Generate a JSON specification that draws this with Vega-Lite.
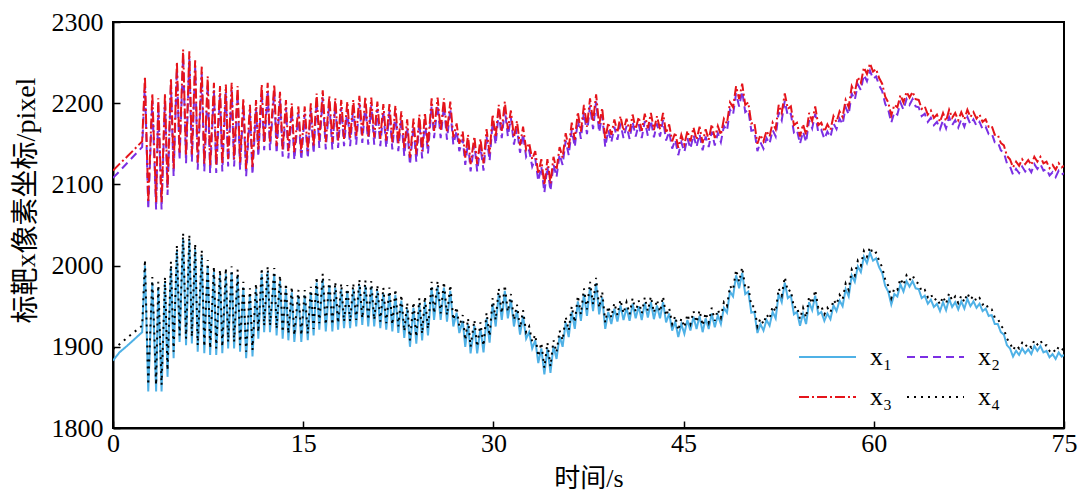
{
"$schema": "https://vega.github.io/schema/vega-lite/v6.json",
"width": 951, "height": 406,
"autosize": {"type": "none"},
"padding": {"left": 113, "top": 22, "right": 18, "bottom": 65},
"background": "white",
"config": {"view": {"stroke": "black", "strokeWidth": 2}, "font": "Liberation Serif"},
"data": {"values": [
{"t":0,"x1":1883,"x2":2108,"x3":2117,"x4":1897},
{"t":0.5,"x1":1893,"x2":2116,"x3":2125,"x4":1903},
{"t":1.1,"x1":1901,"x2":2126,"x3":2134,"x4":1911},
{"t":2.3,"x1":1918,"x2":2146,"x3":2153,"x4":1926},
{"t":2.52,"x1":2000,"x2":2224,"x3":2233,"x4":2007},{"t":2.78,"x1":1845,"x2":2069,"x3":2078,"x4":1853},
{"t":3.10,"x1":1979,"x2":2203,"x3":2212,"x4":1986},{"t":3.40,"x1":1845,"x2":2069,"x3":2078,"x4":1853},
{"t":3.57,"x1":1973,"x2":2197,"x3":2206,"x4":1980},{"t":3.83,"x1":1845,"x2":2069,"x3":2078,"x4":1853},
{"t":4.10,"x1":1979,"x2":2203,"x3":2212,"x4":1986},{"t":4.30,"x1":1863,"x2":2087,"x3":2096,"x4":1871},
{"t":4.57,"x1":1998,"x2":2222,"x3":2231,"x4":2005},{"t":4.78,"x1":1886,"x2":2110,"x3":2119,"x4":1894},
{"t":5.04,"x1":2018,"x2":2242,"x3":2251,"x4":2025},{"t":5.25,"x1":1906,"x2":2130,"x3":2139,"x4":1914},
{"t":5.53,"x1":2033,"x2":2257,"x3":2266,"x4":2040},{"t":5.76,"x1":1902,"x2":2126,"x3":2135,"x4":1910},
{"t":6.02,"x1":2031,"x2":2255,"x3":2264,"x4":2038},{"t":6.22,"x1":1904,"x2":2128,"x3":2137,"x4":1912},
{"t":6.48,"x1":2020,"x2":2244,"x3":2253,"x4":2027},{"t":6.68,"x1":1894,"x2":2118,"x3":2127,"x4":1902},
{"t":7.00,"x1":2012,"x2":2236,"x3":2245,"x4":2019},{"t":7.20,"x1":1892,"x2":2116,"x3":2125,"x4":1900},
{"t":7.47,"x1":2000,"x2":2224,"x3":2233,"x4":2007},{"t":7.66,"x1":1890,"x2":2114,"x3":2123,"x4":1898},
{"t":7.96,"x1":1992,"x2":2216,"x3":2225,"x4":1999},{"t":8.14,"x1":1890,"x2":2114,"x3":2123,"x4":1898},
{"t":8.44,"x1":1988,"x2":2212,"x3":2221,"x4":1995},{"t":8.62,"x1":1892,"x2":2116,"x3":2125,"x4":1900},
{"t":8.90,"x1":1990,"x2":2214,"x3":2223,"x4":1997},{"t":9.08,"x1":1898,"x2":2122,"x3":2131,"x4":1906},
{"t":9.36,"x1":1992,"x2":2216,"x3":2225,"x4":1999},{"t":9.55,"x1":1898,"x2":2122,"x3":2131,"x4":1906},
{"t":9.83,"x1":1988,"x2":2212,"x3":2221,"x4":1995},{"t":10.02,"x1":1894,"x2":2118,"x3":2127,"x4":1902},
{"t":10.28,"x1":1973,"x2":2197,"x3":2206,"x4":1980},{"t":10.50,"x1":1886,"x2":2110,"x3":2119,"x4":1894},
{"t":10.80,"x1":1965,"x2":2189,"x3":2198,"x4":1972},{"t":11.00,"x1":1888,"x2":2112,"x3":2121,"x4":1896},
{"t":11.28,"x1":1971,"x2":2195,"x3":2204,"x4":1978},{"t":11.46,"x1":1910,"x2":2134,"x3":2143,"x4":1918},
{"t":11.73,"x1":1990,"x2":2214,"x3":2223,"x4":1997},{"t":11.92,"x1":1918,"x2":2142,"x3":2151,"x4":1926},
{"t":12.20,"x1":1992,"x2":2216,"x3":2225,"x4":1999},{"t":12.38,"x1":1918,"x2":2142,"x3":2151,"x4":1926},
{"t":12.72,"x1":1990,"x2":2214,"x3":2223,"x4":1997},{"t":12.90,"x1":1914,"x2":2138,"x3":2147,"x4":1922},
{"t":13.17,"x1":1981,"x2":2205,"x3":2214,"x4":1988},{"t":13.38,"x1":1910,"x2":2134,"x3":2143,"x4":1918},
{"t":13.64,"x1":1971,"x2":2195,"x3":2204,"x4":1978},{"t":13.83,"x1":1908,"x2":2132,"x3":2141,"x4":1916},
{"t":14.10,"x1":1967,"x2":2191,"x3":2200,"x4":1974},{"t":14.30,"x1":1906,"x2":2130,"x3":2139,"x4":1914},
{"t":14.62,"x1":1963,"x2":2187,"x3":2196,"x4":1970},{"t":14.85,"x1":1906,"x2":2130,"x3":2139,"x4":1914},
{"t":15.12,"x1":1963,"x2":2187,"x3":2196,"x4":1970},{"t":15.36,"x1":1908,"x2":2132,"x3":2141,"x4":1916},
{"t":15.60,"x1":1967,"x2":2191,"x3":2200,"x4":1974},{"t":15.82,"x1":1914,"x2":2138,"x3":2147,"x4":1922},
{"t":16.06,"x1":1979,"x2":2203,"x3":2212,"x4":1986},{"t":16.27,"x1":1921,"x2":2145,"x3":2154,"x4":1929},
{"t":16.54,"x1":1983,"x2":2207,"x3":2216,"x4":1990},{"t":16.78,"x1":1919,"x2":2143,"x3":2152,"x4":1927},
{"t":17.06,"x1":1976,"x2":2200,"x3":2209,"x4":1983},{"t":17.30,"x1":1919,"x2":2143,"x3":2152,"x4":1927},
{"t":17.53,"x1":1973,"x2":2197,"x3":2206,"x4":1980},{"t":17.75,"x1":1921,"x2":2145,"x3":2154,"x4":1929},
{"t":18.00,"x1":1971,"x2":2195,"x3":2204,"x4":1978},{"t":18.22,"x1":1923,"x2":2147,"x3":2156,"x4":1931},
{"t":18.48,"x1":1969,"x2":2193,"x3":2202,"x4":1976},{"t":18.70,"x1":1923,"x2":2147,"x3":2156,"x4":1931},
{"t":18.95,"x1":1971,"x2":2195,"x3":2204,"x4":1978},{"t":19.18,"x1":1925,"x2":2149,"x3":2158,"x4":1933},
{"t":19.43,"x1":1976,"x2":2200,"x3":2209,"x4":1983},{"t":19.66,"x1":1927,"x2":2151,"x3":2160,"x4":1935},
{"t":19.90,"x1":1975,"x2":2199,"x3":2208,"x4":1982},{"t":20.13,"x1":1925,"x2":2149,"x3":2158,"x4":1933},
{"t":20.37,"x1":1974,"x2":2198,"x3":2207,"x4":1981},{"t":20.60,"x1":1925,"x2":2149,"x3":2158,"x4":1933},
{"t":20.85,"x1":1969,"x2":2193,"x3":2202,"x4":1976},{"t":21.08,"x1":1923,"x2":2147,"x3":2156,"x4":1931},
{"t":21.32,"x1":1966,"x2":2190,"x3":2199,"x4":1973},{"t":21.55,"x1":1921,"x2":2145,"x3":2154,"x4":1929},
{"t":21.80,"x1":1966,"x2":2190,"x3":2199,"x4":1973},{"t":22.03,"x1":1919,"x2":2143,"x3":2152,"x4":1927},
{"t":22.27,"x1":1964,"x2":2188,"x3":2197,"x4":1971},{"t":22.50,"x1":1917,"x2":2141,"x3":2150,"x4":1925},
{"t":22.74,"x1":1957,"x2":2181,"x3":2190,"x4":1964},{"t":22.97,"x1":1911,"x2":2135,"x3":2144,"x4":1919},
{"t":23.20,"x1":1947,"x2":2171,"x3":2180,"x4":1954},{"t":23.42,"x1":1900,"x2":2124,"x3":2133,"x4":1908},
{"t":23.70,"x1":1948,"x2":2172,"x3":2181,"x4":1955},{"t":23.92,"x1":1904,"x2":2128,"x3":2137,"x4":1912},
{"t":24.16,"x1":1953,"x2":2177,"x3":2186,"x4":1960},{"t":24.38,"x1":1908,"x2":2132,"x3":2141,"x4":1916},
{"t":24.60,"x1":1955,"x2":2179,"x3":2188,"x4":1962},{"t":24.84,"x1":1914,"x2":2138,"x3":2147,"x4":1922},
{"t":25.13,"x1":1973,"x2":2197,"x3":2206,"x4":1980},{"t":25.32,"x1":1933,"x2":2157,"x3":2166,"x4":1941},
{"t":25.60,"x1":1974,"x2":2198,"x3":2207,"x4":1981},{"t":25.84,"x1":1933,"x2":2157,"x3":2166,"x4":1941},
{"t":26.10,"x1":1973,"x2":2197,"x3":2206,"x4":1980},{"t":26.34,"x1":1931,"x2":2155,"x3":2164,"x4":1939},
{"t":26.60,"x1":1969,"x2":2193,"x3":2202,"x4":1976},{"t":26.84,"x1":1925,"x2":2149,"x3":2158,"x4":1933},
{"t":27.10,"x1":1942,"x2":2166,"x3":2175,"x4":1949},{"t":27.31,"x1":1917,"x2":2141,"x3":2150,"x4":1925},
{"t":27.58,"x1":1932,"x2":2156,"x3":2165,"x4":1939},{"t":27.78,"x1":1900,"x2":2124,"x3":2133,"x4":1908},
{"t":28.00,"x1":1928,"x2":2152,"x3":2161,"x4":1935},{"t":28.20,"x1":1892,"x2":2116,"x3":2125,"x4":1900},
{"t":28.50,"x1":1926,"x2":2150,"x3":2159,"x4":1933},{"t":28.72,"x1":1892,"x2":2116,"x3":2125,"x4":1900},
{"t":28.98,"x1":1923,"x2":2147,"x3":2156,"x4":1930},{"t":29.22,"x1":1893,"x2":2117,"x3":2126,"x4":1901},
{"t":29.46,"x1":1935,"x2":2159,"x3":2168,"x4":1942},{"t":29.70,"x1":1905,"x2":2129,"x3":2138,"x4":1913},
{"t":29.94,"x1":1953,"x2":2177,"x3":2186,"x4":1960},{"t":30.18,"x1":1925,"x2":2149,"x3":2158,"x4":1933},
{"t":30.42,"x1":1965,"x2":2189,"x3":2198,"x4":1972},{"t":30.66,"x1":1933,"x2":2157,"x3":2166,"x4":1941},
{"t":30.90,"x1":1969,"x2":2193,"x3":2202,"x4":1976},{"t":31.14,"x1":1935,"x2":2159,"x3":2168,"x4":1943},
{"t":31.38,"x1":1958,"x2":2182,"x3":2191,"x4":1965},{"t":31.62,"x1":1925,"x2":2149,"x3":2158,"x4":1933},
{"t":31.86,"x1":1945,"x2":2169,"x3":2178,"x4":1952},{"t":32.10,"x1":1915,"x2":2139,"x3":2148,"x4":1923},
{"t":32.34,"x1":1938,"x2":2162,"x3":2171,"x4":1945},{"t":32.58,"x1":1910,"x2":2134,"x3":2143,"x4":1918},
{"t":32.82,"x1":1918,"x2":2142,"x3":2151,"x4":1925},{"t":33.06,"x1":1898,"x2":2122,"x3":2131,"x4":1906},
{"t":33.30,"x1":1908,"x2":2132,"x3":2141,"x4":1915},{"t":33.54,"x1":1880,"x2":2104,"x3":2113,"x4":1888},
{"t":33.78,"x1":1898,"x2":2122,"x3":2131,"x4":1905},{"t":34.02,"x1":1866,"x2":2090,"x3":2099,"x4":1874},
{"t":34.26,"x1":1898,"x2":2122,"x3":2131,"x4":1905},{"t":34.50,"x1":1868,"x2":2092,"x3":2101,"x4":1876},
{"t":34.74,"x1":1901,"x2":2125,"x3":2134,"x4":1908},{"t":34.98,"x1":1885,"x2":2109,"x3":2118,"x4":1893},
{"t":35.22,"x1":1913,"x2":2137,"x3":2146,"x4":1920},{"t":35.46,"x1":1900,"x2":2124,"x3":2133,"x4":1908},
{"t":35.70,"x1":1930,"x2":2154,"x3":2163,"x4":1937},{"t":35.94,"x1":1912,"x2":2136,"x3":2145,"x4":1920},
{"t":36.18,"x1":1943,"x2":2167,"x3":2176,"x4":1950},{"t":36.42,"x1":1922,"x2":2146,"x3":2155,"x4":1930},
{"t":36.66,"x1":1956,"x2":2180,"x3":2189,"x4":1963},{"t":36.90,"x1":1932,"x2":2156,"x3":2165,"x4":1940},
{"t":37.14,"x1":1965,"x2":2189,"x3":2198,"x4":1972},{"t":37.38,"x1":1938,"x2":2162,"x3":2171,"x4":1946},
{"t":37.62,"x1":1973,"x2":2197,"x3":2206,"x4":1980},{"t":37.86,"x1":1944,"x2":2168,"x3":2177,"x4":1952},
{"t":38.10,"x1":1978,"x2":2202,"x3":2211,"x4":1985},{"t":38.34,"x1":1940,"x2":2164,"x3":2173,"x4":1948},
{"t":38.58,"x1":1961,"x2":2185,"x3":2194,"x4":1968},{"t":38.82,"x1":1922,"x2":2146,"x3":2155,"x4":1930},
{"t":39.06,"x1":1943,"x2":2167,"x3":2176,"x4":1950},{"t":39.30,"x1":1928,"x2":2152,"x3":2161,"x4":1936},
{"t":39.54,"x1":1947,"x2":2171,"x3":2180,"x4":1954},{"t":39.78,"x1":1931,"x2":2155,"x3":2164,"x4":1939},
{"t":40.02,"x1":1951,"x2":2175,"x3":2184,"x4":1958},{"t":40.26,"x1":1933,"x2":2157,"x3":2166,"x4":1941},
{"t":40.50,"x1":1948,"x2":2172,"x3":2181,"x4":1955},{"t":40.74,"x1":1932,"x2":2156,"x3":2165,"x4":1940},
{"t":40.98,"x1":1953,"x2":2177,"x3":2186,"x4":1960},{"t":41.22,"x1":1935,"x2":2159,"x3":2168,"x4":1943},
{"t":41.46,"x1":1950,"x2":2174,"x3":2183,"x4":1957},{"t":41.70,"x1":1933,"x2":2157,"x3":2166,"x4":1941},
{"t":41.94,"x1":1954,"x2":2178,"x3":2187,"x4":1961},{"t":42.18,"x1":1936,"x2":2160,"x3":2169,"x4":1944},
{"t":42.42,"x1":1955,"x2":2179,"x3":2188,"x4":1962},{"t":42.66,"x1":1934,"x2":2158,"x3":2167,"x4":1942},
{"t":42.90,"x1":1951,"x2":2175,"x3":2184,"x4":1958},{"t":43.14,"x1":1935,"x2":2159,"x3":2168,"x4":1943},
{"t":43.38,"x1":1955,"x2":2179,"x3":2188,"x4":1962},{"t":43.62,"x1":1930,"x2":2154,"x3":2163,"x4":1938},
{"t":43.86,"x1":1941,"x2":2165,"x3":2174,"x4":1948},{"t":44.10,"x1":1920,"x2":2144,"x3":2153,"x4":1928},
{"t":44.34,"x1":1931,"x2":2155,"x3":2164,"x4":1938},{"t":44.58,"x1":1912,"x2":2136,"x3":2145,"x4":1920},
{"t":44.82,"x1":1928,"x2":2152,"x3":2161,"x4":1935},{"t":45.06,"x1":1916,"x2":2140,"x3":2149,"x4":1924},
{"t":45.30,"x1":1933,"x2":2157,"x3":2166,"x4":1940},{"t":45.54,"x1":1920,"x2":2144,"x3":2153,"x4":1928},
{"t":45.78,"x1":1937,"x2":2161,"x3":2170,"x4":1944},{"t":46.02,"x1":1922,"x2":2146,"x3":2155,"x4":1930},
{"t":46.26,"x1":1938,"x2":2162,"x3":2171,"x4":1945},{"t":46.50,"x1":1918,"x2":2142,"x3":2151,"x4":1926},
{"t":46.74,"x1":1935,"x2":2159,"x3":2168,"x4":1942},{"t":46.98,"x1":1922,"x2":2146,"x3":2155,"x4":1930},
{"t":47.22,"x1":1941,"x2":2165,"x3":2174,"x4":1948},{"t":47.46,"x1":1924,"x2":2148,"x3":2157,"x4":1932},
{"t":47.70,"x1":1939,"x2":2163,"x3":2172,"x4":1946},{"t":47.94,"x1":1928,"x2":2152,"x3":2161,"x4":1936},
{"t":48.18,"x1":1948,"x2":2172,"x3":2181,"x4":1955},{"t":48.42,"x1":1942,"x2":2166,"x3":2175,"x4":1950},
{"t":48.66,"x1":1968,"x2":2192,"x3":2201,"x4":1975},{"t":48.90,"x1":1962,"x2":2186,"x3":2195,"x4":1970},
{"t":49.14,"x1":1988,"x2":2212,"x3":2221,"x4":1995},{"t":49.38,"x1":1972,"x2":2196,"x3":2205,"x4":1980},
{"t":49.62,"x1":1991,"x2":2215,"x3":2224,"x4":1998},{"t":49.86,"x1":1965,"x2":2189,"x3":2198,"x4":1973},
{"t":50.10,"x1":1968,"x2":2192,"x3":2201,"x4":1975},{"t":50.34,"x1":1942,"x2":2166,"x3":2175,"x4":1950},
{"t":50.58,"x1":1943,"x2":2167,"x3":2176,"x4":1950},{"t":50.82,"x1":1917,"x2":2141,"x3":2150,"x4":1925},
{"t":51.06,"x1":1928,"x2":2152,"x3":2161,"x4":1935},{"t":51.30,"x1":1920,"x2":2144,"x3":2153,"x4":1928},
{"t":51.54,"x1":1933,"x2":2157,"x3":2166,"x4":1940},{"t":51.78,"x1":1926,"x2":2150,"x3":2159,"x4":1934},
{"t":52.02,"x1":1943,"x2":2167,"x3":2176,"x4":1950},{"t":52.26,"x1":1935,"x2":2159,"x3":2168,"x4":1943},
{"t":52.50,"x1":1965,"x2":2189,"x3":2198,"x4":1972},{"t":52.74,"x1":1955,"x2":2179,"x3":2188,"x4":1963},
{"t":52.98,"x1":1979,"x2":2203,"x3":2212,"x4":1986},{"t":53.22,"x1":1960,"x2":2184,"x3":2193,"x4":1968},
{"t":53.46,"x1":1963,"x2":2187,"x3":2196,"x4":1970},{"t":53.70,"x1":1940,"x2":2164,"x3":2173,"x4":1948},
{"t":53.94,"x1":1943,"x2":2167,"x3":2176,"x4":1950},{"t":54.18,"x1":1926,"x2":2150,"x3":2159,"x4":1934},
{"t":54.42,"x1":1941,"x2":2165,"x3":2174,"x4":1948},{"t":54.66,"x1":1928,"x2":2152,"x3":2161,"x4":1936},
{"t":54.90,"x1":1955,"x2":2179,"x3":2188,"x4":1962},{"t":55.14,"x1":1945,"x2":2169,"x3":2178,"x4":1953},
{"t":55.38,"x1":1963,"x2":2187,"x3":2196,"x4":1970},{"t":55.62,"x1":1940,"x2":2164,"x3":2173,"x4":1948},
{"t":55.86,"x1":1943,"x2":2167,"x3":2176,"x4":1950},{"t":56.10,"x1":1932,"x2":2156,"x3":2165,"x4":1940},
{"t":56.34,"x1":1941,"x2":2165,"x3":2174,"x4":1948},{"t":56.58,"x1":1934,"x2":2158,"x3":2167,"x4":1942},
{"t":56.82,"x1":1951,"x2":2175,"x3":2184,"x4":1958},{"t":57.06,"x1":1944,"x2":2168,"x3":2177,"x4":1952},
{"t":57.30,"x1":1957,"x2":2181,"x3":2190,"x4":1964},{"t":57.54,"x1":1950,"x2":2174,"x3":2183,"x4":1958},
{"t":57.78,"x1":1971,"x2":2195,"x3":2204,"x4":1978},{"t":58.02,"x1":1962,"x2":2186,"x3":2195,"x4":1970},
{"t":58.26,"x1":1988,"x2":2212,"x3":2221,"x4":1995},{"t":58.50,"x1":1980,"x2":2204,"x3":2213,"x4":1988},
{"t":58.74,"x1":1999,"x2":2223,"x3":2232,"x4":2006},{"t":58.98,"x1":1992,"x2":2216,"x3":2225,"x4":2000},
{"t":59.22,"x1":2011,"x2":2235,"x3":2244,"x4":2018},{"t":59.46,"x1":2003,"x2":2227,"x3":2236,"x4":2011},
{"t":59.70,"x1":2016,"x2":2240,"x3":2249,"x4":2023},{"t":59.94,"x1":2006,"x2":2230,"x3":2239,"x4":2014},
{"t":60.18,"x1":2009,"x2":2233,"x3":2242,"x4":2016},{"t":60.42,"x1":1998,"x2":2222,"x3":2231,"x4":2006},
{"t":60.66,"x1":1991,"x2":2215,"x3":2224,"x4":1998},{"t":60.90,"x1":1975,"x2":2199,"x3":2208,"x4":1983},
{"t":61.14,"x1":1968,"x2":2192,"x3":2201,"x4":1975},{"t":61.38,"x1":1952,"x2":2176,"x3":2185,"x4":1960},
{"t":61.62,"x1":1965,"x2":2189,"x3":2198,"x4":1972},{"t":61.86,"x1":1962,"x2":2186,"x3":2195,"x4":1970},
{"t":62.10,"x1":1977,"x2":2201,"x3":2210,"x4":1984},{"t":62.34,"x1":1968,"x2":2192,"x3":2201,"x4":1976},
{"t":62.58,"x1":1981,"x2":2205,"x3":2214,"x4":1988},{"t":62.82,"x1":1974,"x2":2198,"x3":2207,"x4":1982},
{"t":63.06,"x1":1981,"x2":2205,"x3":2214,"x4":1988},{"t":63.30,"x1":1972,"x2":2196,"x3":2205,"x4":1980},
{"t":63.54,"x1":1971,"x2":2195,"x3":2204,"x4":1978},{"t":63.78,"x1":1960,"x2":2184,"x3":2193,"x4":1968},
{"t":64.02,"x1":1963,"x2":2187,"x3":2196,"x4":1970},{"t":64.26,"x1":1953,"x2":2177,"x3":2186,"x4":1961},
{"t":64.50,"x1":1958,"x2":2182,"x3":2191,"x4":1965},{"t":64.74,"x1":1949,"x2":2173,"x3":2182,"x4":1957},
{"t":64.98,"x1":1953,"x2":2177,"x3":2186,"x4":1960},{"t":65.22,"x1":1944,"x2":2168,"x3":2177,"x4":1952},
{"t":65.46,"x1":1955,"x2":2179,"x3":2188,"x4":1962},{"t":65.70,"x1":1945,"x2":2169,"x3":2178,"x4":1953},
{"t":65.94,"x1":1959,"x2":2183,"x3":2192,"x4":1966},{"t":66.18,"x1":1949,"x2":2173,"x3":2182,"x4":1957},
{"t":66.42,"x1":1955,"x2":2179,"x3":2188,"x4":1962},{"t":66.66,"x1":1946,"x2":2170,"x3":2179,"x4":1954},
{"t":66.90,"x1":1956,"x2":2180,"x3":2189,"x4":1963},{"t":67.14,"x1":1947,"x2":2171,"x3":2180,"x4":1955},
{"t":67.38,"x1":1959,"x2":2183,"x3":2192,"x4":1966},{"t":67.62,"x1":1950,"x2":2174,"x3":2183,"x4":1958},
{"t":67.86,"x1":1956,"x2":2180,"x3":2189,"x4":1963},{"t":68.10,"x1":1948,"x2":2172,"x3":2181,"x4":1956},
{"t":68.34,"x1":1953,"x2":2177,"x3":2186,"x4":1960},{"t":68.58,"x1":1944,"x2":2168,"x3":2177,"x4":1952},
{"t":68.82,"x1":1947,"x2":2171,"x3":2180,"x4":1954},{"t":69.06,"x1":1938,"x2":2162,"x3":2171,"x4":1946},
{"t":69.30,"x1":1939,"x2":2163,"x3":2172,"x4":1946},{"t":69.54,"x1":1928,"x2":2152,"x3":2161,"x4":1936},
{"t":69.78,"x1":1928,"x2":2152,"x3":2161,"x4":1935},{"t":70.02,"x1":1918,"x2":2142,"x3":2151,"x4":1926},
{"t":70.26,"x1":1915,"x2":2139,"x3":2148,"x4":1922},{"t":70.50,"x1":1902,"x2":2126,"x3":2135,"x4":1910},
{"t":70.74,"x1":1898,"x2":2122,"x3":2131,"x4":1905},{"t":70.98,"x1":1888,"x2":2112,"x3":2121,"x4":1896},
{"t":71.22,"x1":1895,"x2":2119,"x3":2128,"x4":1902},{"t":71.46,"x1":1890,"x2":2114,"x3":2123,"x4":1898},
{"t":71.70,"x1":1898,"x2":2122,"x3":2131,"x4":1905},{"t":71.94,"x1":1892,"x2":2116,"x3":2125,"x4":1900},
{"t":72.18,"x1":1897,"x2":2121,"x3":2130,"x4":1904},{"t":72.42,"x1":1891,"x2":2115,"x3":2124,"x4":1899},
{"t":72.66,"x1":1901,"x2":2125,"x3":2134,"x4":1908},{"t":72.90,"x1":1895,"x2":2119,"x3":2128,"x4":1903},
{"t":73.14,"x1":1901,"x2":2125,"x3":2134,"x4":1908},{"t":73.38,"x1":1893,"x2":2117,"x3":2126,"x4":1901},
{"t":73.62,"x1":1895,"x2":2119,"x3":2128,"x4":1902},{"t":73.86,"x1":1887,"x2":2111,"x3":2120,"x4":1895},
{"t":74.10,"x1":1891,"x2":2115,"x3":2124,"x4":1898},{"t":74.34,"x1":1885,"x2":2109,"x3":2118,"x4":1893},
{"t":74.58,"x1":1893,"x2":2117,"x3":2126,"x4":1900},{"t":74.82,"x1":1888,"x2":2112,"x3":2121,"x4":1896},
{"t":75.00,"x1":1890,"x2":2114,"x3":2123,"x4":1898}
]},
"transform": [{"fold": ["x1","x2","x3","x4"], "as": ["series","value"]}],
"mark": {"type": "line", "strokeWidth": 2, "clip": true},
"encoding": {
  "x": {"field": "t", "type": "quantitative", "scale": {"domain": [0,75], "nice": false},
    "axis": {"values": [0,15,30,45,60,75], "format": "d", "grid": false, "tickSize": -7, "tickWidth": 1.5, "tickColor": "black",
      "domainColor": "black", "domainWidth": 2, "labelFont": "Liberation Serif", "labelFontSize": 26, "labelColor": "black",
      "labelPadding": 9, "labelBaseline": "top", "labelFlush": false,
      "title": "时间/s", "titleFont": "Liberation Serif, Noto Sans CJK SC", "titleFontSize": 26, "titleFontWeight": "normal",
      "titleColor": "black", "titleBaseline": "middle", "titleY": 50}},
  "y": {"field": "value", "type": "quantitative", "scale": {"domain": [1800,2300], "nice": false, "zero": false},
    "axis": {"values": [1800,1900,2000,2100,2200,2300], "format": "d", "grid": false, "tickSize": -7, "tickWidth": 1.5, "tickColor": "black",
      "domainColor": "black", "domainWidth": 2, "labelFont": "Liberation Serif", "labelFontSize": 26, "labelColor": "black",
      "labelPadding": 17, "labelFlush": false,
      "title": "标靶x像素坐标/pixel", "titleFont": "Liberation Serif, Noto Sans CJK SC", "titleFontSize": 28, "titleFontWeight": "normal",
      "titleColor": "black", "titleAngle": -90, "titleAlign": "center", "titleBaseline": "middle", "titleX": -87, "titleY": 178}},
  "color": {"field": "series", "type": "nominal",
    "scale": {"domain": ["x1","x2","x3","x4"], "range": ["#4FB1E6","#7B2FE3","#E5141B","#000000"]},
    "legend": {"orient": "none", "legendX": 685, "legendY": 322, "columns": 2, "direction": "horizontal", "title": null, "symbolType": "stroke",
      "symbolSize": 3249, "symbolStrokeWidth": 2, "clipHeight": 26, "labelFont": "Liberation Serif", "labelFontSize": 26,
      "labelColor": "black", "labelOffset": 13, "rowPadding": 14, "columnPadding": 13, "padding": 0,
      "labelExpr": "{'x1':'x₁','x2':'x₂','x3':'x₃','x4':'x₄'}[datum.label]"}},
  "strokeDash": {"field": "series", "type": "nominal",
    "scale": {"domain": ["x1","x2","x3","x4"], "range": [[1,0],[8,5],[10,3,2,3],[2,5]]},
    "legend": {"orient": "none", "legendX": 685, "legendY": 322, "columns": 2, "direction": "horizontal", "title": null, "symbolType": "stroke",
      "symbolSize": 3249, "symbolStrokeWidth": 2, "clipHeight": 26, "labelFont": "Liberation Serif", "labelFontSize": 26,
      "labelColor": "black", "labelOffset": 13, "rowPadding": 14, "columnPadding": 13, "padding": 0,
      "labelExpr": "{'x1':'x₁','x2':'x₂','x3':'x₃','x4':'x₄'}[datum.label]"}}
}
}
